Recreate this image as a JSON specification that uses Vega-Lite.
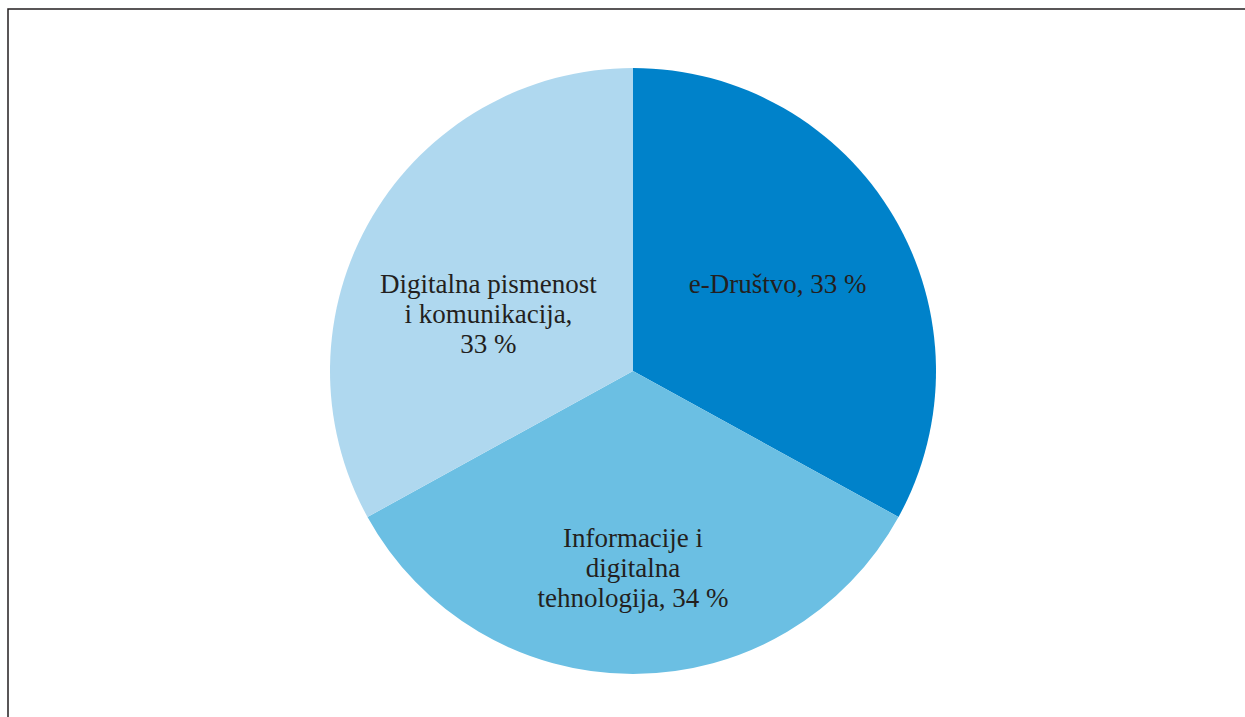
{
  "$schema": "https://vega.github.io/schema/vega-lite/v6.json",
  "width": 1250,
  "height": 724,
  "autosize": {"type": "none"},
  "padding": {"left": 8, "top": 9, "right": 0, "bottom": 0},
  "background": "white",
  "view": {"stroke": "#231f20", "strokeWidth": 1.5, "fill": "white"},
  "config": {
    "view": {"stroke": "#231f20", "strokeWidth": 1.5},
    "style": {"view": {"stroke": "#231f20", "strokeWidth": 1.5}}
  },
  "data": {
    "values": [
      {"category": "e-Društvo", "value": 33, "order": 1, "label": "e-Društvo, 33 %"},
      {"category": "Informacije i digitalna tehnologija", "value": 34, "order": 2, "label": "Informacije i\ndigitalna\ntehnologija, 34 %"},
      {"category": "Digitalna pismenost i komunikacija", "value": 33, "order": 3, "label": "Digitalna pismenost\ni komunikacija,\n33 %"}
    ]
  },
  "encoding": {
    "theta": {"field": "value", "type": "quantitative", "stack": true},
    "order": {"field": "order", "type": "quantitative"}
  },
  "layer": [
    {
      "mark": {"type": "arc", "outerRadius": 303},
      "encoding": {
        "color": {
          "field": "category",
          "type": "nominal",
          "scale": {
            "domain": ["e-Društvo", "Informacije i digitalna tehnologija", "Digitalna pismenost i komunikacija"],
            "range": ["#0082ca", "#6bbfe3", "#afd8ef"]
          },
          "legend": null
        }
      }
    },
    {
      "mark": {"type": "text", "radius": 168, "font": "Liberation Serif, DejaVu Serif, serif", "fontSize": 27, "lineBreak": "\n", "lineHeight": 30, "color": "#231f20", "align": "center", "baseline": "middle"},
      "encoding": {"text": {"field": "label", "type": "nominal"}}
    }
  ]
}
